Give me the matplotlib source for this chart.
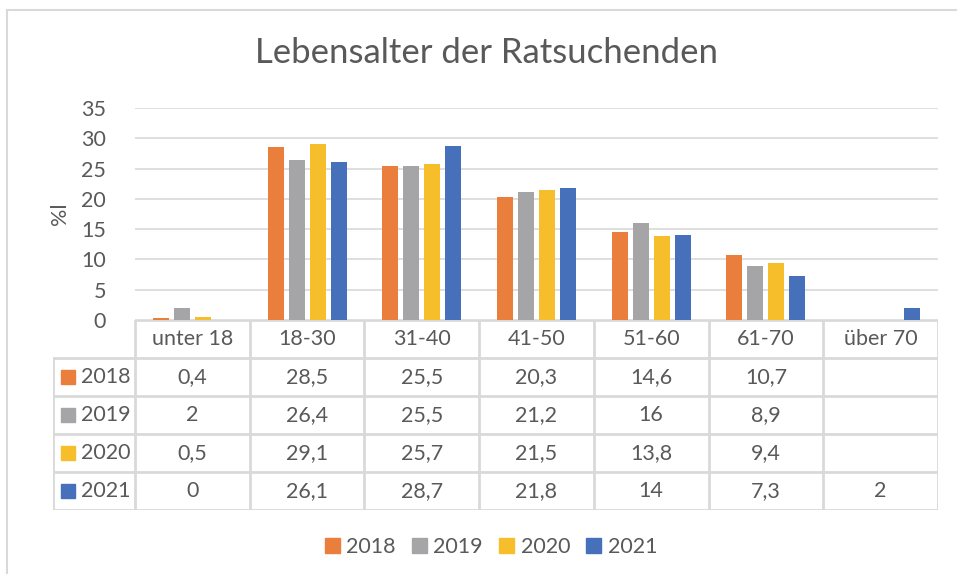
import numpy as np
import matplotlib.pyplot as plt
from matplotlib.patches import Patch
from matplotlib.lines import Line2D

# data
categories = ["unter 18", "18-30", "31-40", "41-50", "51-60", "61-70", "über 70"]
years = ["2018", "2019", "2020", "2021"]
v2018 = [0.4, 28.5, 25.5, 20.3, 14.6, 10.7, None]
v2019 = [2, 26.4, 25.5, 21.2, 16, 8.9, None]
v2020 = [0.5, 29.1, 25.7, 21.5, 13.8, 9.4, None]
v2021 = [0, 26.1, 28.7, 21.8, 14, 7.3, 2]
yticks = [0, 5, 10, 15, 20, 25, 30, 35]

series = [v2018, v2019, v2020, v2021]
colors = ["#E97E3D", "#A5A5A8", "#F6BE2A", "#4670BA"]
txt = "#595959"
grid = "#D9D9D9"

plt.rcParams['font.family'] = ['Lato', 'DejaVu Sans']

W, H = 957, 574
fig = plt.figure(figsize=(W / 100, H / 100), dpi=100)

def px(x0, y0, x1, y1):
    # pixel box -> figure fraction rect
    return [x0 / W, 1 - y1 / H, (x1 - x0) / W, (y1 - y0) / H]

# chart area border (only top/left visible in the reference)
fig.add_artist(Line2D([6.5 / W, 1], [1 - 9.5 / H, 1 - 9.5 / H], color=grid, lw=1.5))
fig.add_artist(Line2D([6.5 / W, 6.5 / W], [0, 1 - 9.5 / H], color=grid, lw=1.5))

# bars
ax = fig.add_axes(px(135, 108, 938, 320))
n = len(categories)
x = np.arange(n)
width = 0.139
step = 0.183
for i, (vals, col) in enumerate(zip(series, colors)):
    v = np.array([np.nan if a is None else a for a in vals], dtype=float)
    ax.bar(x + 0.5 + (i - 1.5) * step, v, width, color=col, zorder=3)

ax.set_xlim(0, n)
ax.set_ylim(0, 35)
ax.set_yticks(yticks)
ax.set_yticklabels([str(t) for t in yticks], fontsize=15.5, color=txt)
ax.tick_params(axis='y', length=0, pad=21)
ax.set_xticks([])
ax.grid(axis='y', color=grid, lw=1.2, zorder=0)
for s in ax.spines.values():
    s.set_visible(False)
ax.set_ylabel("%l", fontsize=15.5, color=txt, labelpad=8)

fig.text(487 / W, 1 - 53 / H, "Lebensalter der Ratsuchenden", ha='center', va='center',
         fontsize=25, color=txt)

# data table below the plot
left = (53 - 135) / 115.0
tax = fig.add_axes(px(53, 320, 938, 510))
tax.set_xlim(left, n)
tax.set_ylim(5, 0)
tax.axis('off')
lw = 2
# horizontal lines
tax.plot([0, n], [0, 0], color=grid, lw=lw, solid_capstyle='butt')
for r in range(1, 6):
    tax.plot([left, n], [r, r], color=grid, lw=lw, solid_capstyle='butt')
# vertical lines
tax.plot([left, left], [1, 5], color=grid, lw=lw)
for c in range(n + 1):
    tax.plot([c, c], [0, 5], color=grid, lw=lw)

for c, cat in enumerate(categories):
    tax.text(c + 0.5, 0.5, cat, ha='center', va='center', fontsize=15.5, color=txt)
for r, (yr, vals, col) in enumerate(zip(years, series, colors), start=1):
    tax.plot((68 - 135) / 115.0, r + 0.5, marker='s', ms=10, color=col, mec=col)
    tax.text((81 - 135) / 115.0, r + 0.5, yr, ha='left', va='center', fontsize=15.5, color=txt)
    for c, v in enumerate(vals):
        if v is None:
            continue
        lab = f"{v:g}".replace('.', ',')
        tax.text(c + 0.5, r + 0.5, lab, ha='center', va='center', fontsize=15.5, color=txt)

# legend
handles = [Patch(color=col, label=yr) for yr, col in zip(years, colors)]
fig.legend(handles=handles, loc='center', bbox_to_anchor=(491 / W, 1 - 547 / H), ncol=4,
           frameon=False, fontsize=15.5, labelcolor=txt, handlelength=0.7, handleheight=0.7,
           handletextpad=0.3, columnspacing=0.75)

fig.savefig("out.png", dpi=100)
